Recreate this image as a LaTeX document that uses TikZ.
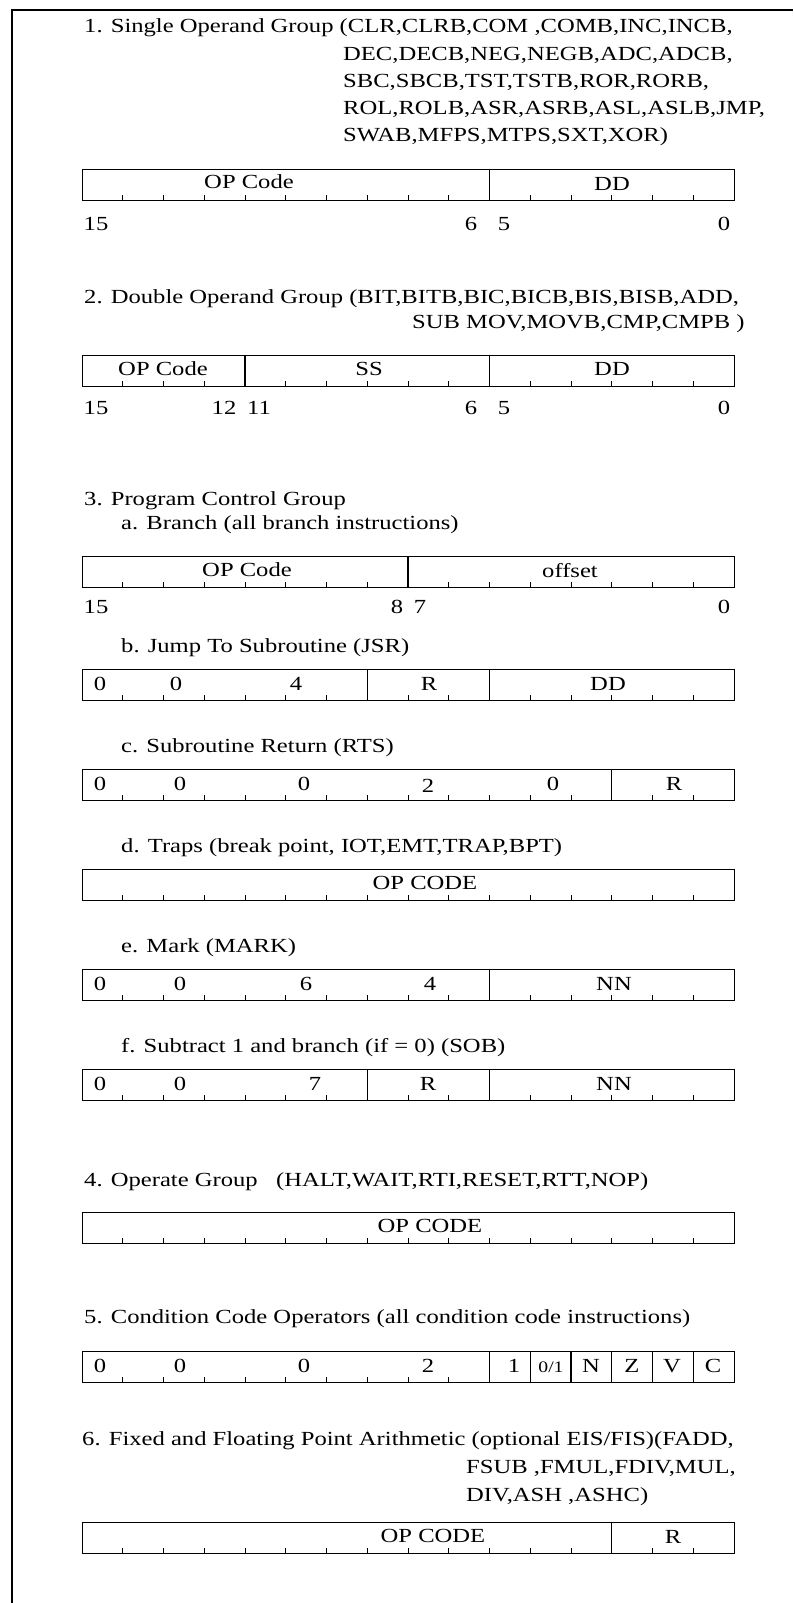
\documentclass[tikz,border=0pt]{standalone}
\usepackage{fontspec}
\setmainfont{Liberation Serif}[FakeStretch=1.23]
\newcommand\fs{\fontsize{20}{23}\selectfont}
\newcommand\register[5]{%
  \node[reg] (#1) at (82,#2) {};
  \foreach \k in {#3} {\draw[divline] (82+\k*40.75,#2) -- ++(0,31);}
  \foreach \k in {#4} {\draw[tickline] (82+\k*40.75,#2+31) -- ++(0,-5);}
}
\tikzset{
  reg/.style={draw, line width=1.3pt, minimum width=652pt, minimum height=31pt, inner sep=0pt, anchor=north west},
  divline/.style={line width=1.1pt},
  tickline/.style={line width=0.9pt},
  lbl/.style={inner sep=0pt, anchor=base west, font=\fs},
  fld/.style={inner sep=0pt, anchor=base, font=\fs},
  frameline/.style={line width=1.2pt},
}
\begin{document}
\begin{tikzpicture}[x=1pt,y=-1pt]
\useasboundingbox (0,0) rectangle (793,1603);
\coordinate (fr0) at (12,1603);
\coordinate (fr1) at (12,10);
\coordinate (fr2) at (793,10);
\draw[frameline] (fr0) -- (fr1) -- (fr2);

% Section 1
\node[lbl] (t1a) at (84,33) {1. Single Operand Group (CLR,CLRB,COM ,COMB,INC,INCB,};
\node[lbl] (t1b) at (343,60) {DEC,DECB,NEG,NEGB,ADC,ADCB,};
\node[lbl] (t1c) at (343,87) {SBC,SBCB,TST,TSTB,ROR,RORB,};
\node[lbl] (t1d) at (343,114) {ROL,ROLB,ASR,ASRB,ASL,ASLB,JMP,};
\node[lbl] (t1e) at (343,141) {SWAB,MFPS,MTPS,SXT,XOR)};
\register{r1}{168.6}{10}{1,2,3,4,5,6,7,8,9,11,12,13,14,15}{}
\node[fld] (r1a) at (249,188) {OP Code};
\node[fld] (r1b) at (612,190) {DD};
\node[fld] (b1a) at (96,230) {15};
\node[fld] (b1b) at (471,230) {6};
\node[fld] (b1c) at (504,230) {5};
\node[fld] (b1d) at (724,230) {0};

% Section 2
\node[lbl] (t2a) at (84,303) {2. Double Operand Group (BIT,BITB,BIC,BICB,BIS,BISB,ADD,};
\node[lbl] (t2b) at (412,328) {SUB MOV,MOVB,CMP,CMPB )};
\register{r2}{354.6}{4,10}{1,2,3,5,6,7,8,9,11,12,13,14,15}{}
\node[fld] (r2a) at (163,375) {OP Code};
\node[fld] (r2b) at (369,375) {SS};
\node[fld] (r2c) at (612,375) {DD};
\node[fld] (b2a) at (96,414) {15};
\node[fld] (b2b) at (224,414) {12};
\node[fld] (b2c) at (259,414) {11};
\node[fld] (b2d) at (471,414) {6};
\node[fld] (b2e) at (504,414) {5};
\node[fld] (b2f) at (724,414) {0};

% Section 3
\node[lbl] (t3) at (84,505) {3. Program Control Group};
\node[lbl] (t3a) at (121,529) {a. Branch (all branch instructions)};
\register{r3a}{556}{8}{1,2,3,4,5,6,7,9,10,11,12,13,14,15}{}
\node[fld] (r3a1) at (247,576) {OP Code};
\node[fld] (r3a2) at (570,577) {offset};
\node[fld] (b3a) at (96,613) {15};
\node[fld] (b3b) at (397,613) {8};
\node[fld] (b3c) at (420,613) {7};
\node[fld] (b3d) at (724,613) {0};

\node[lbl] (t3b) at (121,652) {b. Jump To Subroutine (JSR)};
\register{r3b}{669}{7,10}{1,2,3,4,5,6,8,9,11,12,13,14,15}{}
\node[fld] (r3b1) at (100,690) {0};
\node[fld] (r3b2) at (176,690) {0};
\node[fld] (r3b3) at (296,690) {4};
\node[fld] (r3b4) at (429,690) {R};
\node[fld] (r3b5) at (608,690) {DD};

\node[lbl] (t3c) at (121,752) {c. Subroutine Return (RTS)};
\register{r3c}{769}{13}{1,2,3,4,5,6,7,8,9,10,11,12,14,15}{}
\node[fld] (r3c1) at (100,790) {0};
\node[fld] (r3c2) at (180,790) {0};
\node[fld] (r3c3) at (304,790) {0};
\node[fld] (r3c4) at (428,792) {2};
\node[fld] (r3c5) at (553,790) {0};
\node[fld] (r3c6) at (674,790) {R};

\node[lbl] (t3d) at (121,852) {d. Traps (break point, IOT,EMT,TRAP,BPT)};
\register{r3d}{869}{}{1,2,3,4,5,6,7,8,9,10,11,12,13,14,15}{}
\node[fld] (r3d1) at (425,889) {OP CODE};

\node[lbl] (t3e) at (121,952) {e. Mark (MARK)};
\register{r3e}{969}{10}{1,2,3,4,5,6,7,8,9,11,12,13,14,15}{}
\node[fld] (r3e1) at (100,990) {0};
\node[fld] (r3e2) at (180,990) {0};
\node[fld] (r3e3) at (306,990) {6};
\node[fld] (r3e4) at (430,990) {4};
\node[fld] (r3e5) at (614,990) {NN};

\node[lbl] (t3f) at (121,1052) {f. Subtract 1 and branch (if = 0) (SOB)};
\register{r3f}{1069}{7,10}{1,2,3,4,5,6,8,9,11,12,13,14,15}{}
\node[fld] (r3f1) at (100,1090) {0};
\node[fld] (r3f2) at (180,1090) {0};
\node[fld] (r3f3) at (315,1090) {7};
\node[fld] (r3f4) at (428,1090) {R};
\node[fld] (r3f5) at (614,1090) {NN};

% Section 4
\node[lbl] (t4) at (84,1186) {4. Operate Group \ \ (HALT,WAIT,RTI,RESET,RTT,NOP)};
\register{r4}{1212}{}{1,2,3,4,5,6,7,8,9,10,11,12,13,14,15}{}
\node[fld] (r41) at (430,1232) {OP CODE};

% Section 5
\node[lbl] (t5) at (84,1323) {5. Condition Code Operators (all condition code instructions)};
\register{r5}{1351}{10,11,12,13,14,15}{1,2,3,4,5,6,7,8,9}{}
\node[fld] (r51) at (100,1372) {0};
\node[fld] (r52) at (180,1372) {0};
\node[fld] (r53) at (304,1372) {0};
\node[fld] (r54) at (428,1372) {2};
\node[fld] (r55) at (514,1372) {1};
\node[fld] (r56) at (551,1372) {\fontsize{16}{18}\selectfont 0/1};
\node[fld] (r57) at (591,1372) {N};
\node[fld] (r58) at (632,1372) {Z};
\node[fld] (r59) at (672,1372) {V};
\node[fld] (r5a) at (713,1372) {C};

% Section 6
\node[lbl] (t6a) at (82,1445) {6. Fixed and Floating Point Arithmetic (optional EIS/FIS)(FADD,};
\node[lbl] (t6b) at (466,1473) {FSUB ,FMUL,FDIV,MUL,};
\node[lbl] (t6c) at (466,1501) {DIV,ASH ,ASHC)};
\register{r6}{1522}{13}{1,2,3,4,5,6,7,8,9,10,11,12,14,15}{}
\node[fld] (r61) at (433,1542) {OP CODE};
\node[fld] (r62) at (673,1543) {R};
\end{tikzpicture}
\end{document}
